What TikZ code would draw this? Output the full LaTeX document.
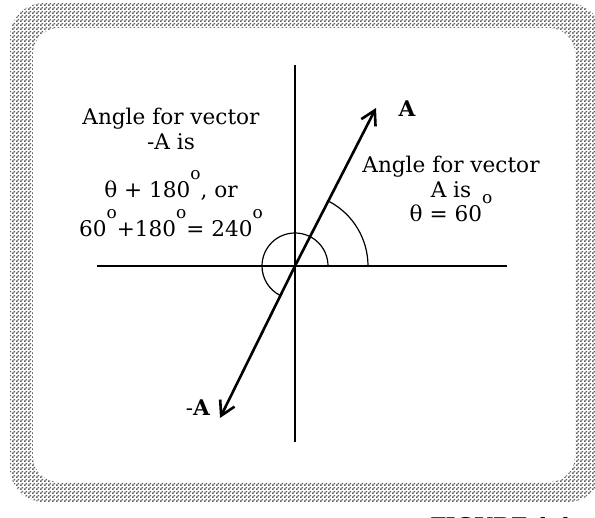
\documentclass[tikz,border=0pt]{standalone}
\usepackage{fontspec}
\setmainfont{DejaVu Serif}
\usepackage{tikz}
\usetikzlibrary{arrows.meta, patterns}
\pgfdeclarepatternformonly{finechecker}{\pgfpointorigin}{\pgfqpoint{2pt}{2pt}}{\pgfqpoint{2pt}{2pt}}{%
  \pgfpathrectangle{\pgfpointorigin}{\pgfqpoint{1pt}{1pt}}%
  \pgfpathrectangle{\pgfqpoint{1pt}{1pt}}{\pgfqpoint{1pt}{1pt}}%
  \pgfusepath{fill}}
\newcommand{\degsup}{\raisebox{9pt}{\fontsize{8.5}{8.5}\selectfont o}}

\begin{document}
\begin{tikzpicture}[x=0.5pt, y=0.5pt,
      axis/.style={line width=0.75pt},
      vec/.style={line width=1.3pt, -{Straight Barb[length=7pt, width=8pt, line width=1.3pt]}},
      arcline/.style={line width=0.6pt},
      lbl/.style={font=\fontsize{10.8}{12}\selectfont, anchor=base, inner sep=0pt}
    ]
    \useasboundingbox (0,0) rectangle (595,518);

    % checkered frame
    \fill[pattern=finechecker, pattern color=gray!75!black] (10,16) [rounded corners=17pt] rectangle (602,515);
    \fill[white] (33,36) [rounded corners=13pt] rectangle (575,490);

    % axes
    \coordinate (O) at (295,252);
    \coordinate (xl) at (97,252);
    \coordinate (xr) at (507,252);
    \coordinate (yt) at (295,453);
    \coordinate (yb) at (295,76);
    \draw[axis] (xl) -- (xr);
    \draw[axis] (yb) -- (yt);

    % vectors A and -A
    \coordinate (tipA) at (376,410);
    \coordinate (tipNegA) at (220,100);
    \draw[vec] (O) -- (tipA);
    \draw[vec] (O) -- (tipNegA);

    % angle arcs
    \draw[arcline] ([shift={(0:33)}]O) arc[start angle=0, end angle=244, radius=33];
    \draw[arcline] ([shift={(0:73)}]O) arc[start angle=0, end angle=62, radius=73];

    % vector labels
    \node[lbl] (labA) at (407,401) {\textbf{A}};
    \node[lbl] (labNegA) at (198,102) {-\textbf{A}};

    % left text
    \node[lbl] (left1) at (171,393) {Angle for vector};
    \node[lbl] (left2) at (171,368) {-A is};
    \node[lbl] (left3) at (171,320) {θ + 180\degsup, or};
    \node[lbl] (left4) at (171,281) {60\degsup+180\degsup= 240\degsup};

    % right text
    \node[lbl] (right1) at (451,345) {Angle for vector};
    \node[lbl] (right2) at (451,320) {A is};
    \node[lbl] (right3) at (451,296) {θ = 60\degsup};

    % caption (cut off)
    \node[lbl, anchor=base west] (cap) at (430,-16) {\textbf{FIGURE 1.1}};
  \end{tikzpicture}
\end{document}
